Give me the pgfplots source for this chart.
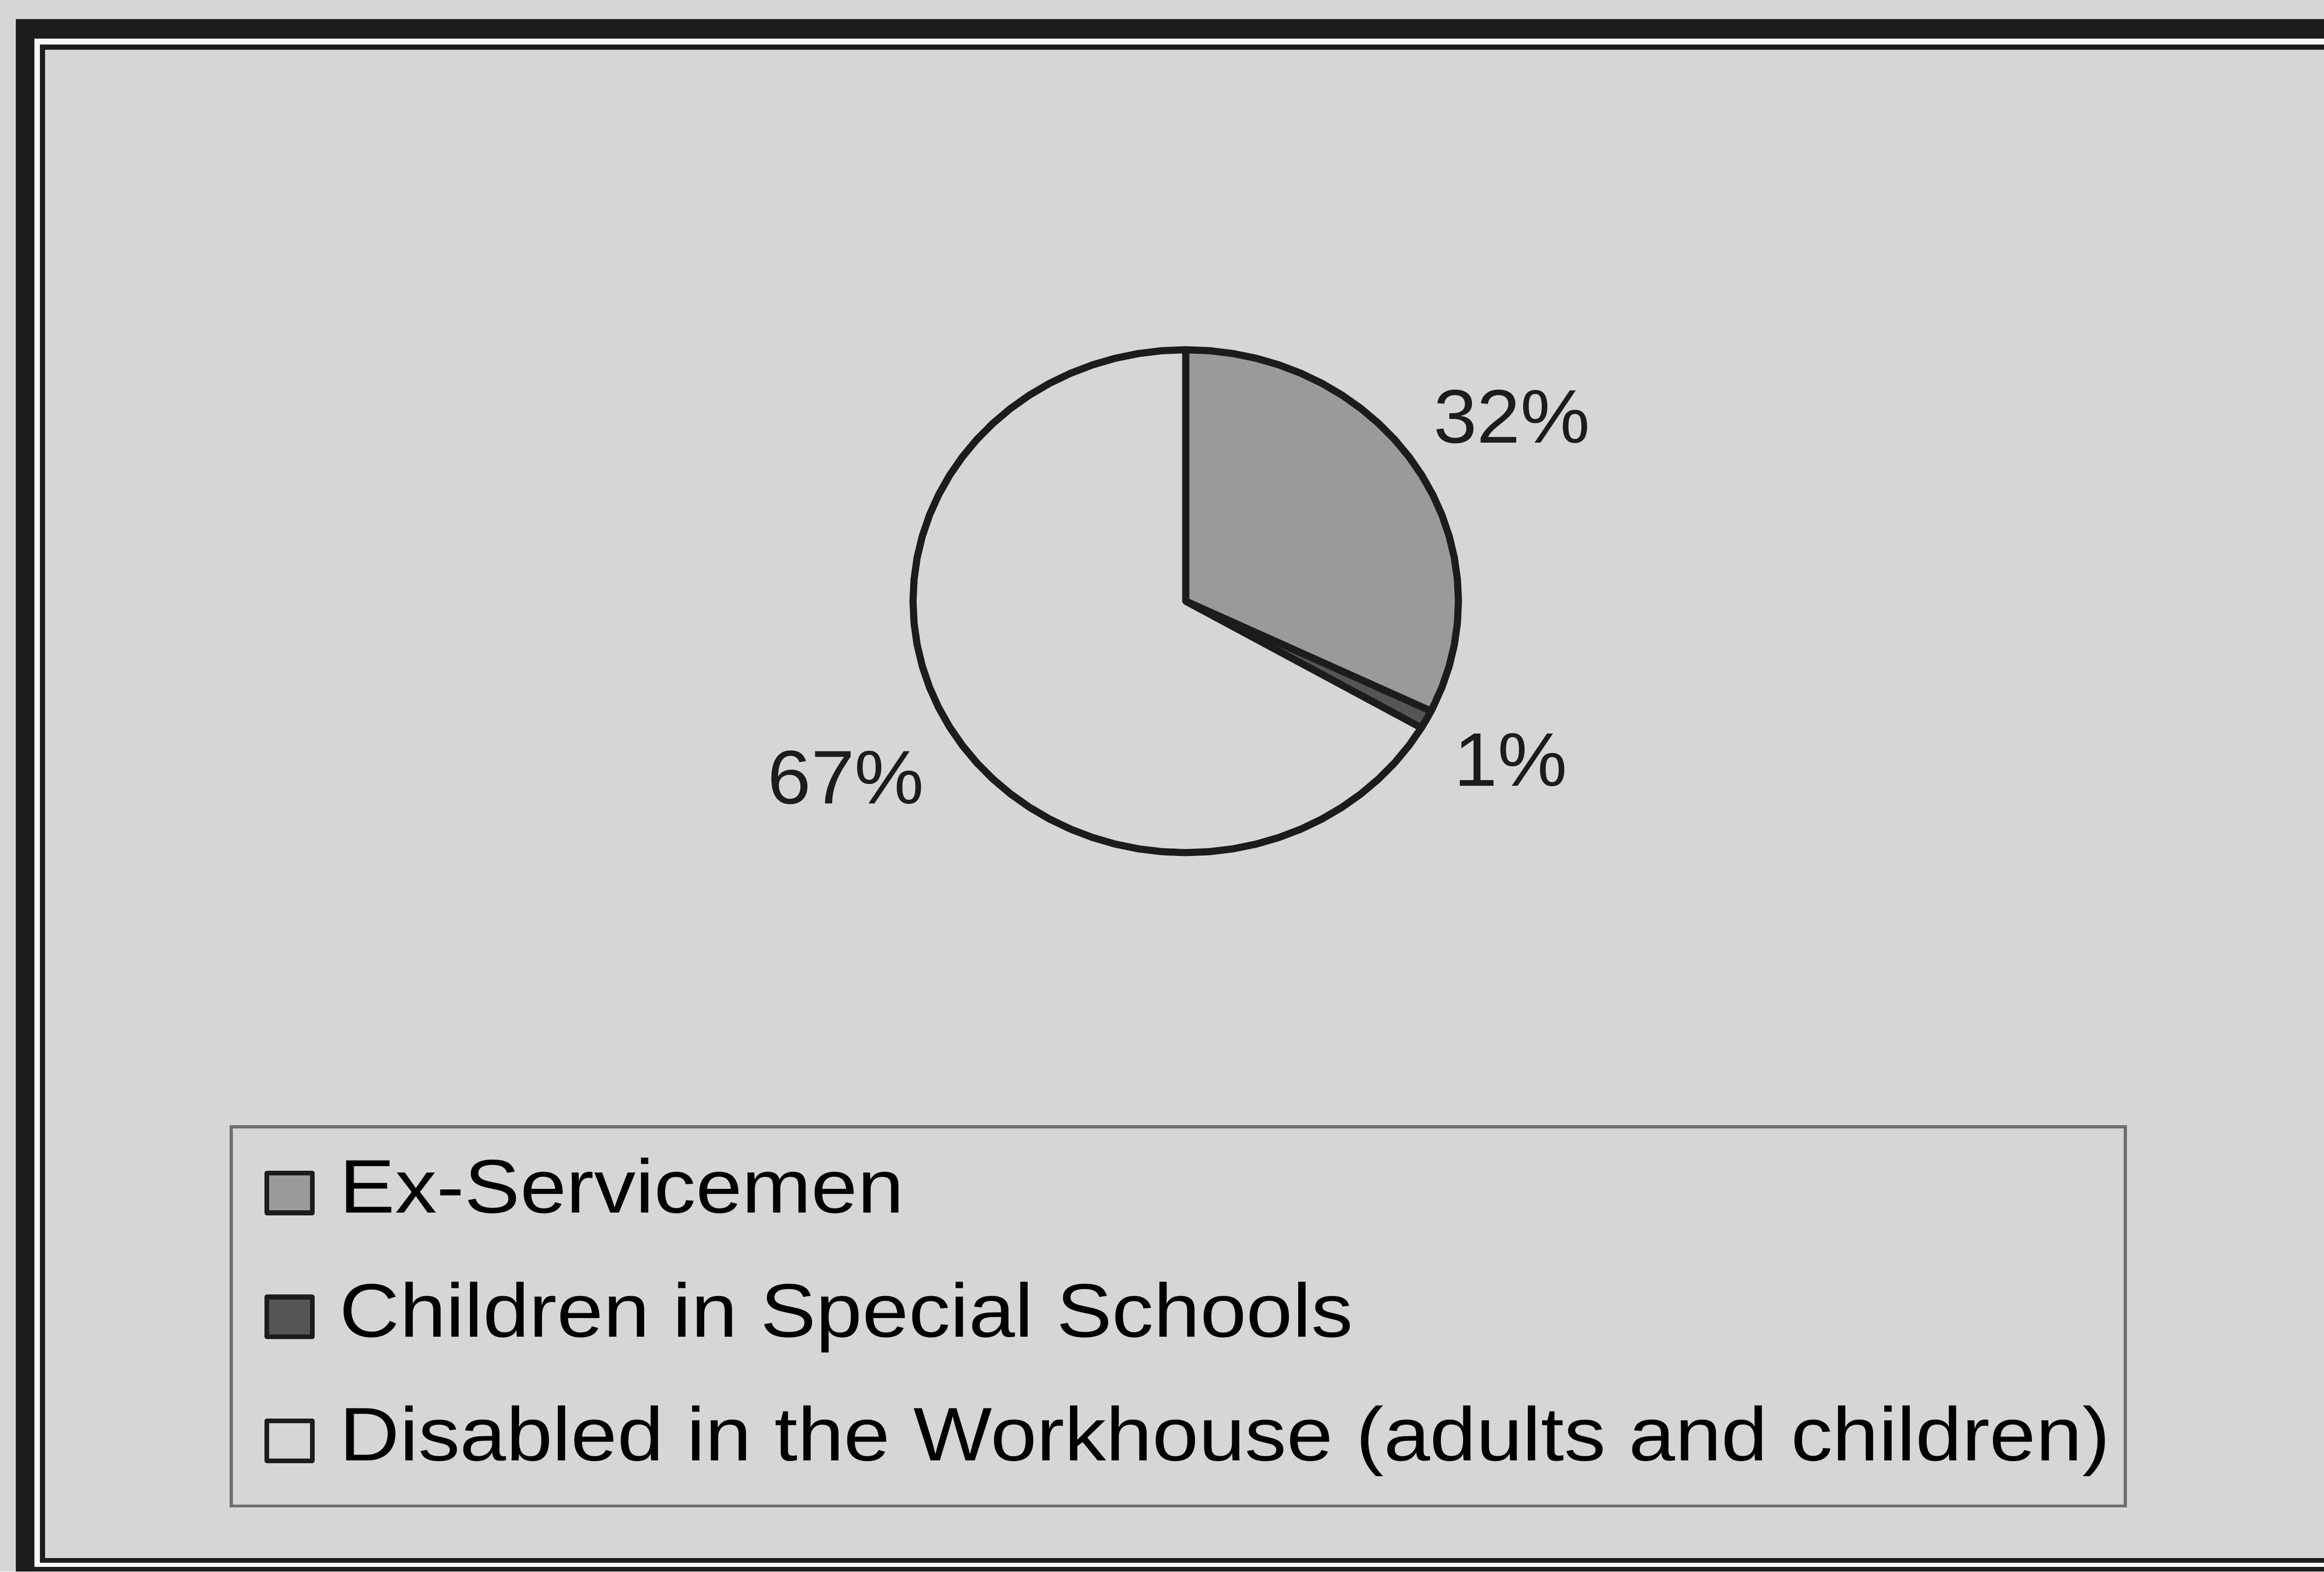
\documentclass[border=0pt]{standalone}
\usepackage{fontspec}
\setmainfont{Liberation Sans}
\newfontfamily\legfont{Liberation Sans}[FakeStretch=1.097]
\newfontfamily\labfont{Liberation Sans}[FakeStretch=1.03]
\usepackage{pgfplots}
\pgfplotsset{compat=1.18}

\definecolor{bgcol}{HTML}{D6D6D6}
\definecolor{exgray}{HTML}{9A9A9A}
\definecolor{chgray}{HTML}{555555}
\definecolor{ink}{HTML}{1C1C1C}
\definecolor{leggray}{HTML}{6E6E6E}

\begin{document}
\begin{tikzpicture}
  % page background (scanned paper)
  \fill[bgcol] (0pt,0pt) rectangle (392pt,265pt);

  \begin{axis}[
      at={(0pt,0pt)}, anchor=south west,
      scale only axis, width=392pt, height=265pt,
      xmin=-4.3478, xmax=4.1739,
      ymin=-3.8591, ymax=2.3909,
      hide axis, clip=false,
      legend cell align=left,
      legend style={
        at={(0.0995,0.283)}, anchor=north west,
        draw=leggray, line width=0.5pt, fill=bgcol,
        inner xsep=2.5pt, inner ysep=5.2pt, outer sep=0pt,
        row sep=9.15pt, column sep=3.6pt,
        font=\legfont\fontsize{12.8pt}{14pt}\selectfont,
        nodes={inner sep=0pt, text height=9.3pt, text depth=2.45pt, anchor=west},
      },
      legend image code/.code={
        \path (-2.5pt,0pt) (8.5pt,0pt);
        \draw[#1, line width=0.8pt] (0.4pt,-3.425pt) rectangle (8.1pt,3.275pt);
      },
    ]

    % Ex-Servicemen, 32 %
    \addplot[data cs=polar, fill=exgray, draw=ink, line width=1.2pt, line join=round]
      coordinates {(0,0) (90,1) (85,1) (80,1) (75,1) (70,1) (65,1) (60,1) (55,1)
        (50,1) (45,1) (40,1) (35,1) (30,1) (25,1) (20,1) (15,1) (10,1) (5,1)
        (0,1) (-5,1) (-10,1) (-15,1) (-20,1) (-25,1) (-25.92,1)} -- cycle;
    \addlegendentry{Ex-Servicemen}

    % Children in Special Schools, 1 %
    \addplot[data cs=polar, fill=chgray, draw=ink, line width=1.2pt, line join=round]
      coordinates {(0,0) (-25.92,1) (-28,1) (-30.24,1)} -- cycle;
    \addlegendentry{Children in Special Schools}

    % Disabled in the Workhouse, 67 %
    \addplot[data cs=polar, fill=bgcol, draw=ink, line width=1.2pt, line join=round]
      coordinates {(0,0) (-30.24,1) (-35,1) (-40,1) (-45,1) (-50,1) (-55,1)
        (-60,1) (-65,1) (-70,1) (-75,1) (-80,1) (-85,1) (-90,1) (-95,1) (-100,1)
        (-105,1) (-110,1) (-115,1) (-120,1) (-125,1) (-130,1) (-135,1) (-140,1)
        (-145,1) (-150,1) (-155,1) (-160,1) (-165,1) (-170,1) (-175,1) (-180,1)
        (-185,1) (-190,1) (-195,1) (-200,1) (-205,1) (-210,1) (-215,1) (-220,1)
        (-225,1) (-230,1) (-235,1) (-240,1) (-245,1) (-250,1) (-255,1) (-260,1)
        (-265,1) (-270,1)} -- cycle;
    \addlegendentry{Disabled in the Workhouse (adults and children)}
  \end{axis}

  % percentage labels
  \begin{scope}[every node/.style={anchor=base west, inner sep=0pt, text=ink,
      font=\labfont\fontsize{12.8pt}{14pt}\selectfont}]
    \node at (241.6pt,190.3pt) {32\%};
    \node at (245.1pt,132.5pt) {1\%};
    \node at (129.3pt,129.5pt) {67\%};
  \end{scope}

  % scanned page frame
  \fill[ink] (2.7pt,0pt) rectangle (5.8pt,261.8pt);
  \fill[ink] (2.7pt,258.5pt) rectangle (392pt,261.8pt);
  \fill[ink] (2.7pt,0pt) rectangle (392pt,0.8pt);
  \fill[white!85!bgcol] (5.8pt,0.8pt) rectangle (6.7pt,258.5pt);
  \fill[white!85!bgcol] (5.8pt,257.6pt) rectangle (392pt,258.5pt);
  \fill[white!85!bgcol] (5.8pt,0.8pt) rectangle (392pt,1.45pt);
  \fill[ink] (6.75pt,1.5pt) rectangle (7.6pt,257.5pt);
  \fill[ink] (6.75pt,256.6pt) rectangle (392pt,257.5pt);
  \fill[ink] (6.75pt,1.5pt) rectangle (392pt,2.3pt);
\end{tikzpicture}
\end{document}
